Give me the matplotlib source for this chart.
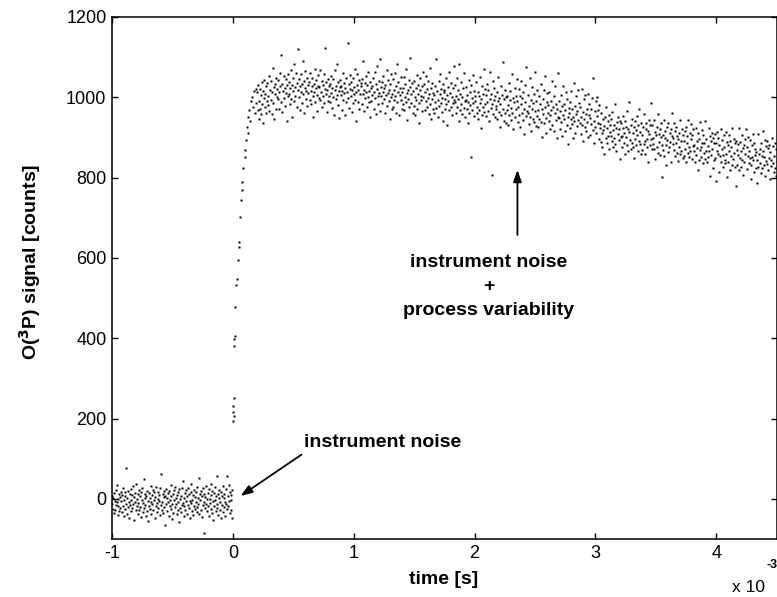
import matplotlib
matplotlib.use("Agg")
import matplotlib.pyplot as plt
import numpy as np

plt.rcParams["font.family"] = ["Liberation Sans", "DejaVu Sans"]
plt.rcParams["axes.unicode_minus"] = False

# time axis in units of 1e-3 s
baseline_span = (-1.0, 0.0)
plateau_span = (0.2, 4.5)

# pre-trigger signal (instrument noise only), counts
baseline_counts = [
    -12, 8, -25, 3, -35, 14, -5, -28, 22, -15, 35, -8, -40, 0, -18, 12, -30, 5, -22, 18,
    -6, -33, 10, -19, 28, -44, -2, 16, -26, 7, -12, 77, -37, 2, -21, 19, -9, -48, 11, -16,
    24, -31, -4, 9, -24, 31, -14, -52, 4, -7, 15, -29, 38, -18, -1, -39, 13, -11, 21, -27,
    6, -20, -45, 17, -3, 26, -34, -10, 49, -23, 1, -15, 12, -42, 8, -30, 20, -6, -56, 14,
    -17, 3, -26, 33, -8, -38, 10, -13, 23, -29, -2, 16, -47, 5, -19, 29, -11, -33, 0, 18,
    -24, 9, -5, -41, 27, -16, 62, -9, -28, 11, -35, 4, 20, -21, -66, 7, -13, 25, -31, 2,
    -7, 15, -43, 19, -18, -3, 34, -25, 8, -12, -50, 13, -36, 22, -4, -20, 30, -14, 1, -39,
    10, -27, 17, -8, -58, 24, -1, -22, 6, -32, 28, -16, 45, -10, -44, 3, -19, 14, -29, 21,
    -5, -37, 8, 26, -15, -24, 12, -6, -48, 18, -11, 36, -30, -2, 9, -41, 23, -17, 4, -26,
    16, -9, -34, 30, -21, 2, -13, 52, -38, 11, -4, -28, 19, -46, 7, -16, 27, -8, -85, 13,
    -23, 5, -12, 33, -30, -1, 15, -19, 24, -42, 0, -10, 37, -25, 9, -35, 20, -6, -53, 14,
    -18, 29, -3, -31, 8, -14, 56, -22, 11, -40, 3, 22, -27, -7, 16, -49, 6, -15, 31, -33,
    1, -20, 13, -9, -44, 25, -12, 58, -26, 7, -17, 34, -5, -36, 18, -2, -29, 10, -47, 21,
]

# fast rise after the trigger
rise_time = [
    0.000, 0.002, 0.004, 0.006, 0.008, 0.010, 0.012, 0.014, 0.018, 0.030, 0.034,
    0.040, 0.052, 0.055, 0.062, 0.068, 0.074, 0.080, 0.086, 0.098, 0.104, 0.110,
    0.118, 0.122, 0.128, 0.136, 0.142, 0.150, 0.158, 0.165, 0.172, 0.180, 0.188, 0.195,
]
rise_counts = [
    195, 215, 232, 250, 205, 380, 398, 405, 478, 533, 548,
    595, 627, 640, 702, 744, 769, 790, 824, 869, 852, 894,
    926, 910, 950, 968, 940, 990, 1001, 975, 1015, 960, 1020, 985,
]

# slowly decaying signal (instrument noise + process variability)
plateau_counts = [
    1012, 968, 1030, 945, 990, 1021, 972, 1005, 958, 1038, 983, 1016, 936, 999, 1044, 975, 1008, 962, 1027, 990,
    1035, 981, 1003, 1052, 967, 1019, 994, 1041, 958, 1012, 1074, 985, 1026, 947, 1009, 1033, 972, 1049, 1001, 1020,
    996, 1043, 1012, 971, 1060, 1027, 988, 1105, 1034, 963, 1016, 1052, 999, 1023, 978, 1046, 1011, 940, 1031, 1004,
    1057, 1009, 1038, 984, 1022, 1069, 995, 1031, 952, 1047, 1015, 1083, 990, 1026, 1003, 1061, 975, 1036, 1119, 1018,
    1001, 1045, 968, 1029, 1012, 1058, 986, 1033, 1091, 1007, 1040, 961, 1024, 1066, 995, 1016, 1049, 979, 1030, 1010,
    1039, 992, 1061, 1015, 983, 1027, 1048, 1003, 952, 1034, 1012, 1071, 989, 1022, 1044, 1006, 966, 1029, 1056, 998,
    1025, 1068, 994, 1013, 1041, 977, 1030, 1002, 1059, 985, 1020, 1122, 1008, 1037, 963, 1017, 1046, 991, 1028, 1004,
    989, 1034, 1011, 1052, 973, 1023, 1000, 1045, 957, 1018, 1067, 996, 1029, 1082, 1006, 1039, 981, 1015, 948, 1026,
    1043, 1005, 1027, 968, 1016, 1061, 992, 1035, 1010, 955, 1024, 1048, 987, 1013, 1135, 998, 1032, 974, 1021, 1056,
    1002, 1038, 963, 1019, 1049, 985, 1026, 1007, 1070, 994, 1013, 942, 1031, 1058, 989, 1017, 1044, 971, 1009, 1036,
    1027, 984, 1046, 1008, 1091, 966, 1019, 1035, 997, 1053, 1012, 975, 1030, 1001, 1062, 988, 1016, 1039, 952, 1023,
    991, 1029, 1006, 1048, 972, 1013, 1063, 998, 1034, 958, 1020, 1077, 1002, 983, 1041, 1010, 1096, 966, 1025, 1004,
    1037, 985, 1014, 1052, 996, 1022, 961, 1030, 1005, 1068, 979, 1011, 1043, 990, 1018, 947, 1033, 1000, 1059, 972,
    1008, 1045, 976, 1019, 994, 1060, 1003, 962, 1028, 1082, 987, 1014, 1039, 955, 1006, 1024, 993, 1051, 970, 1012,
    983, 1022, 1050, 968, 1001, 1034, 989, 1071, 1010, 944, 1017, 996, 1043, 975, 1026, 1099, 985, 1008, 1036, 962,
    1015, 978, 1040, 1000, 957, 1023, 992, 1056, 971, 1009, 1031, 986, 935, 1018, 1047, 994, 1003, 966, 1027, 1064,
    1001, 1033, 969, 1012, 990, 1052, 976, 1020, 998, 1041, 958, 1007, 1072, 983, 1024, 947, 995, 1036, 1010, 972,
    960, 1006, 988, 1029, 1095, 973, 1016, 951, 993, 1040, 979, 1008, 1058, 986, 1021, 964, 999, 1034, 942, 1012,
    1018, 971, 995, 1047, 983, 1005, 930, 1026, 990, 1064, 968, 1011, 977, 1036, 1001, 956, 985, 1022, 1078, 994,
    987, 1030, 962, 1003, 1049, 975, 995, 1018, 940, 1082, 969, 1008, 983, 1037, 958, 1000, 1024, 973, 1060, 991,
    950, 993, 1025, 971, 1006, 935, 987, 1044, 962, 1012, 980, 1031, 851, 999, 968, 1056, 985, 1016, 954, 1003,
    991, 1037, 960, 977, 1014, 945, 1002, 968, 1051, 986, 923, 995, 1028, 957, 1009, 975, 1070, 964, 1021, 982,
    1005, 954, 988, 1033, 967, 1017, 940, 996, 1062, 973, 1009, 807, 982, 1041, 958, 993, 1024, 951, 1003, 970,
    978, 1012, 946, 990, 1050, 964, 999, 925, 983, 1027, 957, 1006, 972, 1088, 941, 995, 1019, 962, 936, 1001,
    968, 1002, 931, 980, 1036, 955, 992, 1015, 943, 974, 1059, 962, 997, 920, 987, 1023, 950, 1004, 971, 1045,
    991, 938, 975, 1020, 957, 1003, 926, 984, 1041, 962, 999, 944, 1012, 971, 908, 988, 1030, 953, 1076, 966,
    962, 1006, 933, 979, 1048, 951, 994, 917, 970, 1025, 946, 985, 1009, 939, 965, 1062, 928, 990, 954, 1017,
    925, 968, 1004, 947, 983, 1032, 939, 972, 901, 995, 958, 1019, 936, 976, 1054, 949, 912, 987, 1010, 960,
    980, 942, 1013, 956, 921, 990, 968, 1041, 932, 975, 1002, 915, 961, 1027, 944, 984, 898, 971, 1060, 950,
    949, 991, 920, 965, 1006, 938, 978, 904, 957, 1029, 945, 983, 917, 969, 1012, 930, 996, 952, 884, 974,
    961, 923, 989, 946, 1015, 934, 970, 898, 952, 1036, 940, 979, 911, 958, 1002, 929, 965, 1018, 944, 985,
    937, 976, 908, 952, 1021, 930, 964, 890, 947, 995, 926, 1005, 958, 915, 972, 939, 1008, 901, 955, 982,
    949, 905, 972, 933, 997, 919, 1048, 942, 886, 965, 927, 990, 912, 954, 1000, 935, 968, 896, 981, 923,
    934, 889, 960, 910, 877, 945, 919, 858, 928, 951, 899, 977, 885, 923, 904, 940, 872, 956, 914, 931,
    903, 945, 890, 963, 918, 877, 932, 898, 984, 884, 923, 865, 938, 909, 950, 893, 921, 846, 942, 901,
    935, 904, 875, 923, 954, 887, 910, 942, 858, 927, 900, 965, 882, 921, 867, 913, 988, 893, 931, 872,
    886, 945, 912, 875, 926, 849, 940, 897, 918, 880, 953, 905, 867, 932, 891, 970, 884, 914, 859, 935,
    905, 869, 926, 884, 958, 891, 858, 921, 937, 897, 875, 916, 840, 944, 909, 881, 932, 895, 985, 872,
    932, 884, 899, 943, 870, 913, 847, 905, 876, 925, 959, 862, 908, 889, 920, 856, 902, 935, 880, 802,
    869, 906, 944, 854, 898, 917, 881, 831, 925, 894, 863, 937, 877, 912, 889, 922, 840, 903, 962, 884,
    898, 936, 869, 915, 854, 886, 927, 862, 904, 841, 896, 911, 876, 943, 858, 892, 867, 922, 848, 906,
    854, 890, 915, 870, 927, 839, 903, 885, 862, 944, 876, 851, 912, 867, 896, 934, 846, 905, 878, 921,
    865, 882, 840, 924, 856, 892, 873, 911, 819, 897, 845, 868, 938, 877, 851, 919, 886, 836, 907, 862,
    887, 846, 942, 867, 895, 838, 879, 850, 923, 865, 904, 804, 890, 856, 911, 870, 825, 898, 843, 885,
    908, 849, 887, 792, 867, 913, 859, 898, 815, 880, 853, 922, 838, 870, 893, 826, 857, 905, 876, 845,
    837, 913, 858, 888, 802, 881, 840, 905, 867, 819, 892, 854, 875, 832, 923, 846, 897, 860, 827, 886,
    892, 779, 869, 832, 883, 855, 820, 924, 848, 889, 867, 827, 843, 906, 873, 806, 880, 838, 895, 859,
    920, 876, 821, 854, 900, 836, 867, 848, 894, 797, 831, 880, 851, 909, 843, 886, 813, 857, 872, 824,
    864, 786, 845, 908, 826, 859, 836, 871, 811, 885, 854, 823, 917, 867, 831, 850, 894, 804, 842, 879,
    834, 892, 818, 873, 848, 882, 797, 864, 829, 844, 899, 836, 878, 813, 854, 886, 825, 871, 804, 842,
]

x_ticks = [-1, 0, 1, 2, 3, 4]
y_ticks = [0, 200, 400, 600, 800, 1000, 1200]

# sample times of the uniformly sampled record
baseline_time = np.linspace(*baseline_span, len(baseline_counts), endpoint=False)
plateau_time = np.linspace(*plateau_span, len(plateau_counts))

fig = plt.figure(figsize=(7.77, 5.97), dpi=100)
ax = fig.add_axes([0.1441, 0.0972, 0.8555, 0.8744])

dot = dict(linestyle="none", marker="s", markersize=1.5, markerfacecolor="black",
           markeredgecolor="none")
ax.plot(baseline_time, baseline_counts, **dot)
ax.plot(rise_time, rise_counts, **dot)
ax.plot(plateau_time, plateau_counts, **dot)

ax.set_xlim(-1, 4.5)
ax.set_ylim(-100, 1200)
ax.set_xticks(x_ticks)
ax.set_yticks(y_ticks)
ax.tick_params(direction="in", top=True, right=True, length=4, width=1,
               labelsize=13, pad=4)
for spine in ax.spines.values():
    spine.set_linewidth(1.1)

bold = dict(fontsize=14, fontweight="bold", color="black")
arrow = dict(arrowstyle="-|>,head_length=0.7,head_width=0.25", color="black", lw=1.3,
             shrinkA=0, shrinkB=0)

ax.annotate("", xy=(0.064, 7), xytext=(0.568, 110), arrowprops=arrow)
ax.text(1.236, 128, "instrument noise", ha="center", va="baseline", **bold)

ax.annotate("", xy=(2.355, 819), xytext=(2.355, 657), arrowprops=arrow)
ax.text(2.12, 578, "instrument noise", ha="center", va="baseline", **bold)
ax.text(2.12, 518, "+", ha="center", va="baseline", **bold)
ax.text(2.12, 458, "process variability", ha="center", va="baseline", **bold)

fig.text(444 / 777, 1 - 580 / 597, "time [s]", ha="center", va="center", **bold)
fig.text(30 / 777, 1 - 262 / 597, "O($^{\\mathbf{3}}$P) signal [counts]", rotation=90,
         ha="center", va="center", **bold)
fig.text(749 / 777, 1 - 587 / 597, "x 10", ha="center", va="center", fontsize=12.5)
fig.text(772 / 777, 1 - 565 / 597, "-3", ha="center", va="center", fontsize=9,
         fontweight="bold")

fig.savefig("out.png", dpi=100)
